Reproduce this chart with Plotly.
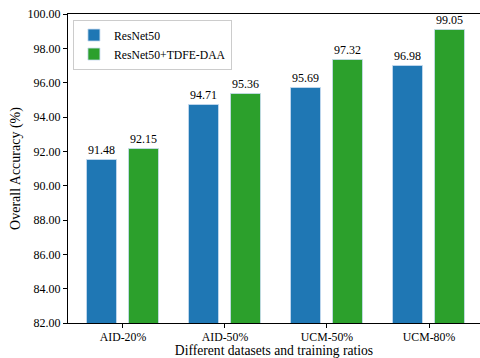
import plotly.graph_objects as go

categories = ["AID-20%", "AID-50%", "UCM-50%", "UCM-80%"]
resnet50 = [91.48, 94.71, 95.69, 96.98]
tdfe_daa = [92.15, 95.36, 97.32, 99.05]
series_names = ["ResNet50", "ResNet50+TDFE-DAA"]
y_ticks = [82, 84, 86, 88, 90, 92, 94, 96, 98, 100]

FONT = "Liberation Serif"
x = list(range(len(categories)))
bw = 0.29
off = 0.205

fig = go.Figure()
for vals, name, color, sign in [(resnet50, series_names[0], "#1f77b4", -1),
                                (tdfe_daa, series_names[1], "#2ca02c", 1)]:
    fig.add_trace(go.Bar(
        x=[xi + sign * off for xi in x], y=vals, width=bw, name=name,
        marker=dict(color=color, line=dict(color="rgba(200,220,240,0.8)", width=1)),
        text=[f"{v:.2f}" for v in vals], textposition="outside",
        textfont=dict(family=FONT, size=12, color="black"),
        cliponaxis=False, hoverinfo="skip",
    ))

fig.update_layout(
    width=480, height=358,
    margin=dict(l=68, r=0, t=14, b=35, autoexpand=False),
    paper_bgcolor="white", plot_bgcolor="white",
    font=dict(family=FONT, size=12, color="black"),
    showlegend=True,
    legend=dict(x=0.012, y=0.982, xanchor="left", yanchor="top",
                bordercolor="#cccccc", borderwidth=1, bgcolor="rgba(255,255,255,0.8)",
                font=dict(family=FONT, size=11.7), tracegroupgap=0, itemwidth=30),
    bargap=0,
)
fig.update_xaxes(
    automargin=False,
    range=[-0.539, 3.5], tickmode="array", tickvals=x, ticktext=categories,
    showline=True, linecolor="black", linewidth=1.2, mirror=True,
    ticks="outside", ticklen=4, tickcolor="black", showgrid=False, zeroline=False,
    tickfont=dict(family=FONT, size=11.8), ticklabelstandoff=-1,
    title=dict(text="Different datasets and training ratios", font=dict(family=FONT, size=13.6), standoff=9),
)
fig.update_yaxes(
    automargin=False,
    range=[82, 100], tickmode="array", tickvals=y_ticks,
    ticktext=[f"{v:.2f}" for v in y_ticks],
    showline=True, linecolor="black", linewidth=1.2,
    ticks="outside", ticklen=4, tickcolor="black", showgrid=False, zeroline=False,
    tickfont=dict(family=FONT, size=12),
    title=dict(text="Overall Accuracy (%)", font=dict(family=FONT, size=14), standoff=3),
)
fig.write_html("out.html", config={"displayModeBar": False},
               post_script="document.body.style.margin='0';document.body.style.overflow='hidden';")
